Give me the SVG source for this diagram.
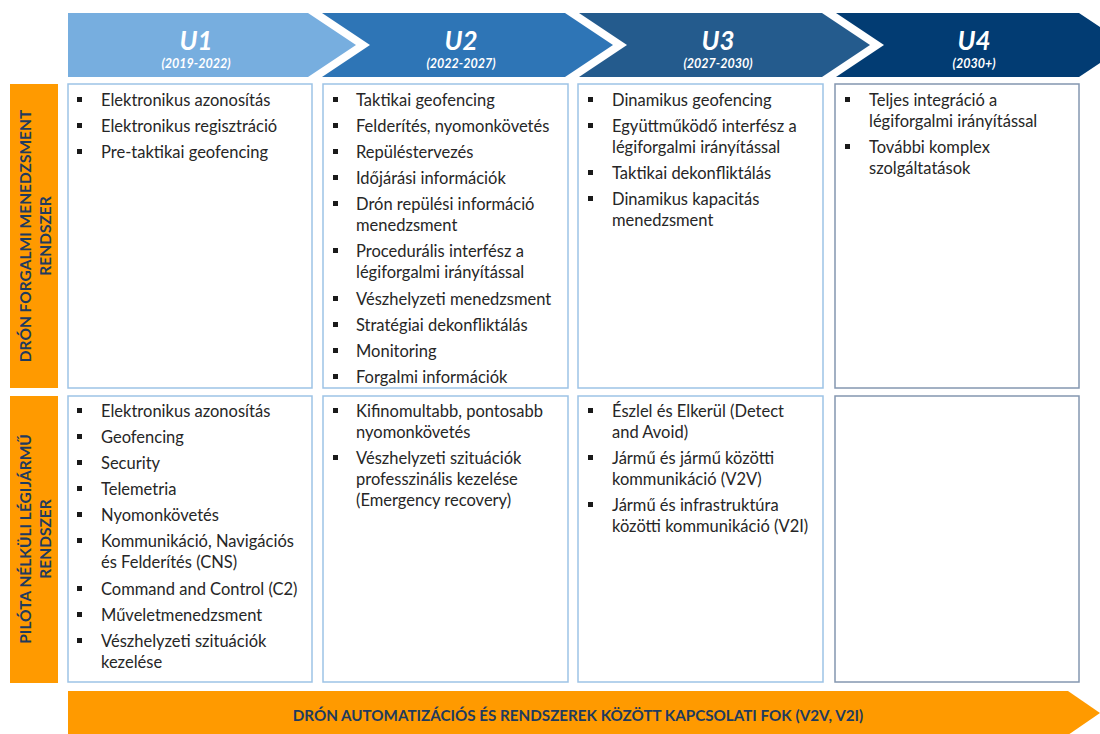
<svg xmlns="http://www.w3.org/2000/svg" width="1100" height="734" viewBox="0 0 1100 734">
<style>
.hd{font-family:Lato,"Open Sans",sans-serif;font-weight:bold;font-style:italic;fill:#fff;text-anchor:middle}
.u{font-size:26px}
.yr{font-size:12.5px}
.cell{fill:#fff;stroke:#9dc3e6;stroke-width:1.5}
.cell4{fill:#fff;stroke:#8497b0;stroke-width:1.5}
.t{font-family:Lato,"Open Sans",sans-serif;font-size:16.5px;fill:#262626}
.b{fill:#1a1a1a}
.side{fill:#ff9a00}
.lbl{font-family:Lato,"Open Sans",sans-serif;font-weight:bold;font-size:15.5px;fill:#1f3b5e;text-anchor:middle}
</style>
<g id="headers">
<g id="h1"><polygon points="68,13 308,13 356,45 308,77 68,77" fill="#77aedf"/><text class="hd u" x="196" y="50">U1</text><text class="hd yr" x="196" y="68">(2019-2022)</text></g>
<g id="h2"><polygon points="322,13 565,13 613,45 565,77 322,77 370,45" fill="#2e75b6"/><text class="hd u" x="461" y="50">U2</text><text class="hd yr" x="461" y="68">(2022-2027)</text></g>
<g id="h3"><polygon points="579,13 822,13 870,45 822,77 579,77 627,45" fill="#245b8d"/><text class="hd u" x="718" y="50">U3</text><text class="hd yr" x="718" y="68">(2027-2030)</text></g>
<g id="h4"><polygon points="836,13 1079,13 1127,45 1079,77 836,77 884,45" fill="#023c73"/><text class="hd u" x="974" y="50">U4</text><text class="hd yr" x="974" y="68">(2030+)</text></g>
</g>
<g id="row1label"><rect class="side" x="10" y="84" width="48" height="304"/><text class="lbl" transform="translate(31,236) rotate(-90)">DRÓN FORGALMI MENEDZSMENT</text><text class="lbl" transform="translate(51,236) rotate(-90)">RENDSZER</text></g>
<g id="row2label"><rect class="side" x="10" y="396" width="48" height="287"/><text class="lbl" transform="translate(31,539) rotate(-90)">PILÓTA NÉLKÜLI LÉGIJÁRMŰ</text><text class="lbl" transform="translate(51,539) rotate(-90)">RENDSZER</text></g>

<g id="c11"><rect class="cell" x="68" y="84" width="244" height="304"/>
<rect class="b" x="77" y="97" width="5" height="5"/><text class="t" x="101" y="106">Elektronikus azonosítás</text>
<rect class="b" x="77" y="123" width="5" height="5"/><text class="t" x="101" y="132">Elektronikus regisztráció</text>
<rect class="b" x="77" y="149" width="5" height="5"/><text class="t" x="101" y="158">Pre-taktikai geofencing</text>
</g>
<g id="c12"><rect class="cell" x="323" y="84" width="245" height="304"/>
<rect class="b" x="333" y="97" width="5" height="5"/><text class="t" x="356" y="106">Taktikai geofencing</text>
<rect class="b" x="333" y="123" width="5" height="5"/><text class="t" x="356" y="132">Felderítés, nyomonkövetés</text>
<rect class="b" x="333" y="149" width="5" height="5"/><text class="t" x="356" y="158">Repüléstervezés</text>
<rect class="b" x="333" y="175" width="5" height="5"/><text class="t" x="356" y="184">Időjárási információk</text>
<rect class="b" x="333" y="201" width="5" height="5"/><text class="t" x="356" y="210">Drón repülési információ</text><text class="t" x="356" y="231">menedzsment</text>
<rect class="b" x="333" y="248" width="5" height="5"/><text class="t" x="356" y="257">Procedurális interfész a</text><text class="t" x="356" y="278">légiforgalmi irányítással</text>
<rect class="b" x="333" y="296" width="5" height="5"/><text class="t" x="356" y="305">Vészhelyzeti menedzsment</text>
<rect class="b" x="333" y="322" width="5" height="5"/><text class="t" x="356" y="331">Stratégiai dekonfliktálás</text>
<rect class="b" x="333" y="348" width="5" height="5"/><text class="t" x="356" y="357">Monitoring</text>
<rect class="b" x="333" y="374" width="5" height="5"/><text class="t" x="356" y="383">Forgalmi információk</text>
</g>
<g id="c13"><rect class="cell" x="578" y="84" width="245" height="304"/>
<rect class="b" x="588" y="97" width="5" height="5"/><text class="t" x="612" y="106">Dinamikus geofencing</text>
<rect class="b" x="588" y="123" width="5" height="5"/><text class="t" x="612" y="132">Együttműködő interfész a</text><text class="t" x="612" y="153">légiforgalmi irányítással</text>
<rect class="b" x="588" y="170" width="5" height="5"/><text class="t" x="612" y="179">Taktikai dekonfliktálás</text>
<rect class="b" x="588" y="196" width="5" height="5"/><text class="t" x="612" y="205">Dinamikus kapacitás</text><text class="t" x="612" y="226">menedzsment</text>
</g>
<g id="c14"><rect class="cell4" x="835" y="84" width="244" height="304"/>
<rect class="b" x="845" y="97" width="5" height="5"/><text class="t" x="869" y="106">Teljes integráció a</text><text class="t" x="869" y="127">légiforgalmi irányítással</text>
<rect class="b" x="845" y="144" width="5" height="5"/><text class="t" x="869" y="153">További komplex</text><text class="t" x="869" y="174">szolgáltatások</text>
</g>

<g id="c21"><rect class="cell" x="68" y="396" width="244" height="286"/>
<rect class="b" x="77" y="408" width="5" height="5"/><text class="t" x="101" y="417">Elektronikus azonosítás</text>
<rect class="b" x="77" y="434" width="5" height="5"/><text class="t" x="101" y="443">Geofencing</text>
<rect class="b" x="77" y="460" width="5" height="5"/><text class="t" x="101" y="469">Security</text>
<rect class="b" x="77" y="486" width="5" height="5"/><text class="t" x="101" y="495">Telemetria</text>
<rect class="b" x="77" y="512" width="5" height="5"/><text class="t" x="101" y="521">Nyomonkövetés</text>
<rect class="b" x="77" y="538" width="5" height="5"/><text class="t" x="101" y="547">Kommunikáció, Navigációs</text><text class="t" x="101" y="568">és Felderítés (CNS)</text>
<rect class="b" x="77" y="586" width="5" height="5"/><text class="t" x="101" y="595">Command and Control (C2)</text>
<rect class="b" x="77" y="612" width="5" height="5"/><text class="t" x="101" y="621">Műveletmenedzsment</text>
<rect class="b" x="77" y="638" width="5" height="5"/><text class="t" x="101" y="647">Vészhelyzeti szituációk</text><text class="t" x="101" y="668">kezelése</text>
</g>
<g id="c22"><rect class="cell" x="323" y="396" width="245" height="286"/>
<rect class="b" x="333" y="408" width="5" height="5"/><text class="t" x="356" y="417">Kifinomultabb, pontosabb</text><text class="t" x="356" y="438">nyomonkövetés</text>
<rect class="b" x="333" y="455" width="5" height="5"/><text class="t" x="356" y="464">Vészhelyzeti szituációk</text><text class="t" x="356" y="485">professzinális kezelése</text><text class="t" x="356" y="506">(Emergency recovery)</text>
</g>
<g id="c23"><rect class="cell" x="578" y="396" width="245" height="286"/>
<rect class="b" x="588" y="408" width="5" height="5"/><text class="t" x="612" y="417">Észlel és Elkerül (Detect</text><text class="t" x="612" y="438">and Avoid)</text>
<rect class="b" x="588" y="455" width="5" height="5"/><text class="t" x="612" y="464">Jármű és jármű közötti</text><text class="t" x="612" y="485">kommunikáció (V2V)</text>
<rect class="b" x="588" y="502" width="5" height="5"/><text class="t" x="612" y="511">Jármű és infrastruktúra</text><text class="t" x="612" y="532">közötti kommunikáció (V2I)</text>
</g>
<g id="c24"><rect class="cell4" x="835" y="396" width="244" height="286"/></g>

<g id="bottom"><polygon points="68,691 1068,691 1100,713 1068,735 68,735" fill="#ff9a00"/><text class="lbl" x="578" y="721" style="font-size:15.2px">DRÓN AUTOMATIZÁCIÓS ÉS RENDSZEREK KÖZÖTT KAPCSOLATI FOK (V2V, V2I)</text></g>
<g id="connectors"/>
</svg>
